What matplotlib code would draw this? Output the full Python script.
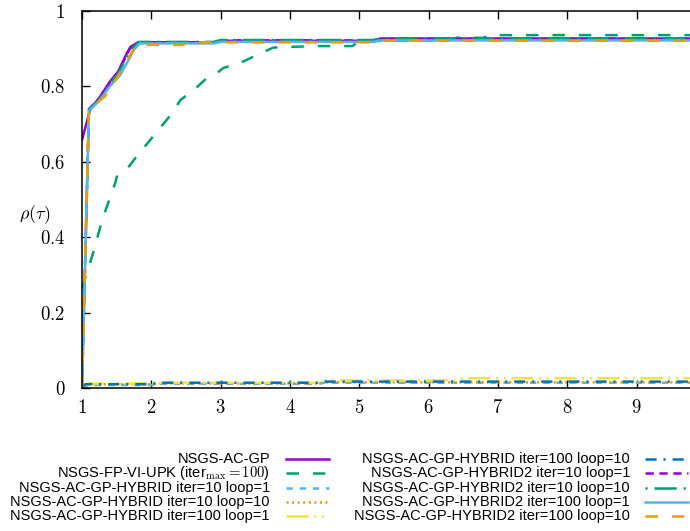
import numpy as np
import matplotlib
matplotlib.use("Agg")
import matplotlib.pyplot as plt
from matplotlib.lines import Line2D
from matplotlib.ticker import FixedLocator, FuncFormatter

plt.rcParams['mathtext.fontset'] = 'cm'
plt.rcParams['lines.scale_dashes'] = False
plt.rcParams['font.family'] = ['Liberation Sans', 'DejaVu Sans']

# performance profile curves (tau, rho)
tau_ac = [1.0, 1.12, 1.25, 1.40, 1.52, 1.65, 1.70, 1.81, 2.9, 3.0, 5.2, 5.3, 10.0]
rho_ac = [0.658, 0.740, 0.770, 0.812, 0.839, 0.889, 0.905, 0.917, 0.917, 0.921, 0.921, 0.927, 0.927]

tau_fp = [1.0, 1.16, 1.30, 1.48, 1.50, 1.62, 1.77, 2.10, 2.30, 2.42, 2.61, 2.80, 2.95, 3.04,
          3.28, 3.52, 3.76, 4.05, 4.39, 4.9, 5.0, 6.3, 6.4, 6.8, 6.85, 10.0]
rho_fp = [0.265, 0.358, 0.451, 0.544, 0.560, 0.574, 0.610, 0.684, 0.729, 0.764, 0.790, 0.822,
          0.836, 0.849, 0.862, 0.883, 0.903, 0.905, 0.907, 0.907, 0.920, 0.923, 0.929, 0.929,
          0.936, 0.936]

tau_h_10_1 = [1.0, 1.1, 2.0, 2.1, 4.4, 4.5, 10.0]
rho_h_10_1 = [0.002, 0.008, 0.008, 0.011, 0.011, 0.014, 0.014]

tau_h_10_10 = [1.0, 1.1, 2.0, 2.1, 4.4, 4.5, 10.0]
rho_h_10_10 = [0.004, 0.010, 0.010, 0.012, 0.012, 0.015, 0.015]

tau_h_100_1 = [1.0, 1.1, 2.0, 2.1, 4.4, 4.5, 6.4, 6.5, 10.0]
rho_h_100_1 = [0.005, 0.012, 0.012, 0.014, 0.014, 0.020, 0.020, 0.026, 0.026]

tau_h_100_10 = [1.0, 1.05, 2.0, 2.1, 4.4, 4.5, 10.0]
rho_h_100_10 = [0.003, 0.010, 0.010, 0.014, 0.014, 0.017, 0.017]

tau_h2_10_1 = [1.0, 1.1, 1.25, 1.40, 1.52, 1.65, 1.70, 1.81, 2.9, 3.0, 5.2, 5.3, 10.0]
rho_h2_10_1 = [0.0, 0.740, 0.768, 0.810, 0.837, 0.886, 0.903, 0.917, 0.917, 0.922, 0.922, 0.926, 0.926]

tau_h2_10_10 = [1.0, 1.1, 1.25, 1.40, 1.52, 1.65, 1.72, 1.82, 2.9, 3.0, 5.2, 5.3, 10.0]
rho_h2_10_10 = [0.0, 0.738, 0.765, 0.806, 0.833, 0.880, 0.900, 0.918, 0.918, 0.923, 0.923, 0.926, 0.926]

tau_h2_100_1 = [1.0, 1.1, 1.25, 1.40, 1.55, 1.68, 1.74, 1.83, 2.9, 3.0, 5.2, 5.3, 10.0]
rho_h2_100_1 = [0.0, 0.735, 0.762, 0.800, 0.830, 0.873, 0.895, 0.914, 0.914, 0.918, 0.918, 0.922, 0.922]

tau_h2_100_10 = [1.0, 1.1, 1.33, 1.57, 1.74, 1.81, 2.45, 2.55, 5.2, 5.3, 10.0]
rho_h2_100_10 = [0.0, 0.740, 0.773, 0.843, 0.897, 0.910, 0.910, 0.917, 0.917, 0.921, 0.921]

labels = ['NSGS-AC-GP',
          'NSGS-FP-VI-UPK (iter$_{\\mathrm{max}}=100$)',
          'NSGS-AC-GP-HYBRID iter=10 loop=1',
          'NSGS-AC-GP-HYBRID iter=10 loop=10',
          'NSGS-AC-GP-HYBRID iter=100 loop=1',
          'NSGS-AC-GP-HYBRID iter=100 loop=10',
          'NSGS-AC-GP-HYBRID2 iter=10 loop=1',
          'NSGS-AC-GP-HYBRID2 iter=10 loop=10',
          'NSGS-AC-GP-HYBRID2 iter=100 loop=1',
          'NSGS-AC-GP-HYBRID2 iter=100 loop=10']

taus = [tau_ac, tau_fp, tau_h_10_1, tau_h_10_10, tau_h_100_1, tau_h_100_10,
        tau_h2_10_1, tau_h2_10_10, tau_h2_100_1, tau_h2_100_10]
rhos = [rho_ac, rho_fp, rho_h_10_1, rho_h_10_10, rho_h_100_1, rho_h_100_10,
        rho_h2_10_1, rho_h2_10_10, rho_h2_100_1, rho_h2_100_10]

colors = ['#9400d3', '#009e73', '#56b4e9', '#e69f00', '#f0e442', '#0072b2',
          '#9400d3', '#009e73', '#56b4e9', '#e69f00']
dashes = [None, (9, 10), (4.5, 5), (1.5, 2.5), (16, 4, 1.5, 4, 1.5, 4), (8, 5, 1.5, 5),
          (6, 4), (1.5, 5, 16, 5), None, (9, 10)]

fig = plt.figure(figsize=(6.9, 5.31), dpi=100)
ax = fig.add_axes([82 / 690, 143 / 531, 624 / 690, 377 / 531])

lines = []
for t, r, c, d in zip(taus, rhos, colors, dashes):
    ln, = ax.plot(t, r, color=c, lw=1.8)
    if d is not None:
        ln.set_dashes(d)
    lines.append(ln)

ax.set_xlim(1, 10)
ax.set_ylim(0, 1)
ax.xaxis.set_major_locator(FixedLocator(range(1, 10)))
ax.yaxis.set_major_locator(FixedLocator([0, 0.2, 0.4, 0.6, 0.8, 1.0]))
ax.xaxis.set_major_formatter(FuncFormatter(lambda v, p: '$%d$' % v))
ax.yaxis.set_major_formatter(FuncFormatter(lambda v, p: '$%g$' % v))
ax.tick_params(direction='in', length=6, width=1, top=True, right=True, labelsize=13.5)
ax.tick_params(axis='y', pad=12)
ax.tick_params(axis='x', pad=8)
for s in ax.spines.values():
    s.set_linewidth(1.1)

ax.set_ylabel(r'$\rho(\tau)$', rotation=0, fontsize=13, va='center', ha='center')
ax.yaxis.set_label_coords(-0.075, 0.459)

# legend: two columns, text right aligned, sample line to the right
rows = [459, 473, 488, 502, 516]
for i, ln in enumerate(lines):
    col = i // 5
    y = 1 - rows[i % 5] / 531
    tx = (270 if col == 0 else 630) / 690
    x0 = (286 if col == 0 else 645) / 690
    x1 = (329 if col == 0 else 688) / 690
    fig.text(tx, y, labels[i], ha='right', va='center', fontsize=10.5)
    sample = Line2D([x0, x1], [y, y], transform=fig.transFigure,
                    color=ln.get_color(), lw=1.8)
    if dashes[i] is not None:
        sample.set_dashes(dashes[i])
    fig.add_artist(sample)

fig.savefig('out.png', dpi=100)
